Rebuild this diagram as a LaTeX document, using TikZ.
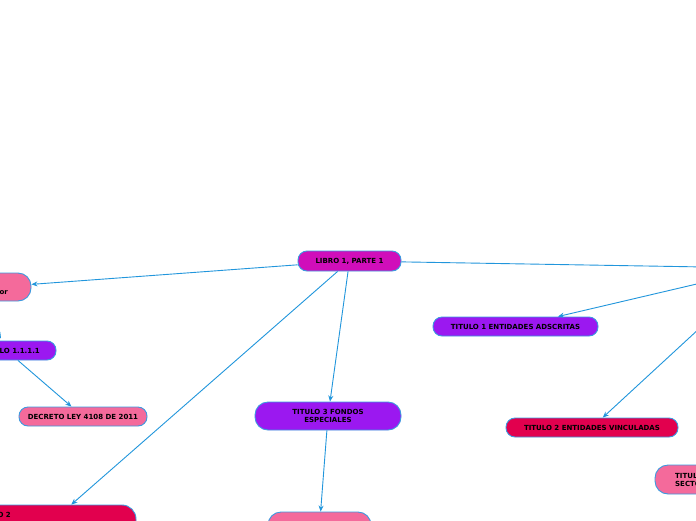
\documentclass[tikz,border=0pt]{standalone}
\usepackage{fontspec}
\setmainfont{DejaVu Sans}
\usetikzlibrary{arrows.meta}
\definecolor{magentaN}{RGB}{208,14,186}
\definecolor{purpleN}{RGB}{155,24,240}
\definecolor{pinkN}{RGB}{244,106,155}
\definecolor{crimsonN}{RGB}{226,0,78}
\definecolor{borderN}{RGB}{58,154,224}
\definecolor{lineN}{RGB}{33,150,220}
\tikzset{
  box/.style={draw=borderN, line width=0.9pt, rounded corners=9pt, inner sep=0pt,
    font=\fontsize{7}{8}\selectfont\bfseries, text=black, align=center},
  lbl/.style={inner sep=0pt, font=\fontsize{7}{8}\selectfont\bfseries, text=black},
  conn/.style={draw=lineN, line width=0.9pt, -{Stealth[length=6pt,width=5pt]}},
  plain/.style={draw=lineN, line width=0.9pt}
}
\begin{document}
\begin{tikzpicture}[x=1pt,y=-1pt]
\useasboundingbox (0,0) rectangle (696,520);
\clip (0,0) rectangle (696,520);
\fill[white] (0,0) rectangle (696,520);
% nodes
\node[box, fill=magentaN, minimum width=103pt, minimum height=20pt] (libro) at (349.5,261) {LIBRO 1, PARTE 1};
\node[box, fill=pinkN, minimum width=71pt, minimum height=28pt, rounded corners=13pt] (leftpink) at (-4.5,287) {};
\node[lbl, anchor=base east] (leftpinkt) at (8,294) {or};
\node[box, fill=purpleN, minimum width=116pt, minimum height=19pt] (p1111) at (-2,350.5) {};
\node[lbl, anchor=base east] (p1111t) at (40,353) {TITULO 1.1.1.1};
\node[box, fill=pinkN, minimum width=128pt, minimum height=19pt] (decreto) at (83,416.5) {DECRETO LEY 4108 DE 2011};
\node[box, fill=crimsonN, minimum width=176pt, minimum height=40pt, rounded corners=14pt] (t2left) at (48,525) {};
\node[lbl, anchor=base east] (t2leftt) at (11,517.5) {TITULO 2};
\node[box, fill=purpleN, minimum width=146pt, minimum height=28pt, rounded corners=13pt] (t3) at (328,416) {TITULO 3 FONDOS\\ESPECIALES};
\node[box, fill=pinkN, minimum width=103pt, minimum height=28pt, rounded corners=13pt] (bpink) at (319.5,526) {};
\node[box, fill=purpleN, minimum width=165pt, minimum height=19pt] (t1) at (515.5,326.5) {TITULO 1 ENTIDADES ADSCRITAS};
\node[box, fill=crimsonN, minimum width=172pt, minimum height=19pt] (t2r) at (592,427.5) {TITULO 2 ENTIDADES VINCULADAS};
\node[box, fill=pinkN, minimum width=104pt, minimum height=29pt, rounded corners=13pt] (rpink) at (707,479.5) {};
\node[lbl, anchor=west, align=left] (rpinkt) at (675,479.5) {TITULO 3\\SECTOR};
\node[inner sep=0pt, minimum width=30pt, minimum height=10pt] (hub) at (765,268) {};
% connectors
\draw[conn] (libro) -- (leftpink);
\draw[conn] (-6,326) coordinate (c0) -- (1,338.5) coordinate (c1);
\draw[conn] ([xshift=20pt]p1111.south) -- (decreto);
\draw[conn] (libro) -- (t2left);
\draw[conn] (libro) -- (t3);
\draw[conn] (t3) -- (bpink);
\draw[plain] (libro) -- (hub);
\draw[conn] (hub) -- (t1);
\draw[conn] (hub) -- (t2r);
\end{tikzpicture}
\end{document}
